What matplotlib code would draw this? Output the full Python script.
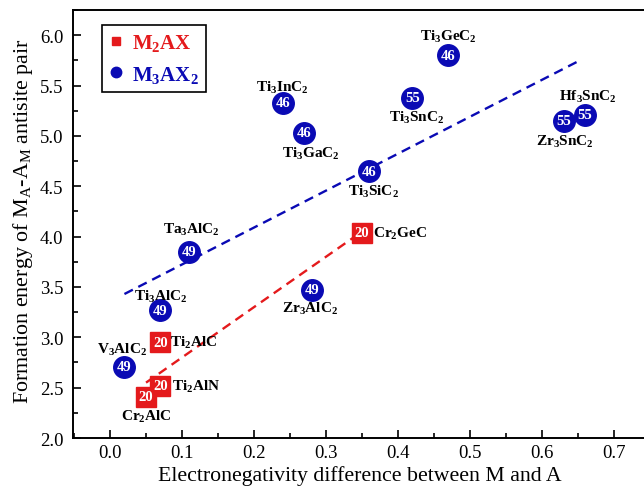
import numpy as np
import matplotlib
matplotlib.use("Agg")
import matplotlib.pyplot as plt
from matplotlib.lines import Line2D
from matplotlib.ticker import MultipleLocator

plt.rcParams['font.family'] = ['Liberation Serif', 'DejaVu Serif']
plt.rcParams['mathtext.fontset'] = 'custom'
plt.rcParams['mathtext.rm'] = 'Liberation Serif'
plt.rcParams['mathtext.bf'] = 'Liberation Serif:bold'
plt.rcParams['mathtext.it'] = 'Liberation Serif:italic'

RED = '#e41a1c'
BLUE = '#0a0ab4'

# M3AX2 phases (blue circles)
m3_names = ['Ti3GeC2', 'Ti3InC2', 'Ti3GaC2', 'Ti3SnC2', 'Hf3SnC2', 'Zr3SnC2',
            'Ti3SiC2', 'Ta3AlC2', 'Ti3AlC2', 'Zr3AlC2', 'V3AlC2']
m3_x = [0.47, 0.24, 0.27, 0.42, 0.66, 0.63, 0.36, 0.11, 0.07, 0.28, 0.02]
m3_y = [5.80, 5.33, 5.03, 5.38, 5.21, 5.15, 4.65, 3.85, 3.27, 3.47, 2.71]
m3_num = ['46', '46', '46', '55', '55', '55', '46', '49', '49', '49', '49']

# M2AX phases (red squares)
m2_names = ['Cr2GeC', 'Ti2AlC', 'Ti2AlN', 'Cr2AlC']
m2_x = [0.35, 0.07, 0.07, 0.05]
m2_y = [4.04, 2.95, 2.52, 2.41]
m2_num = ['20', '20', '20', '20']

# linear fit lines (end points)
m3_fit_x = [0.02, 0.65]
m3_fit_y = [3.43, 5.74]
m2_fit_x = [0.05, 0.35]
m2_fit_y = [2.55, 4.05]

# label offsets in points (dx, dy, ha)
m3_off = [(0, 14, 'center'), (0, 11.5, 'center'), (5, -14.5, 'center'),
          (3, -14, 'center'), (2, 13.5, 'center'), (1, -14.5, 'center'),
          (3, -14, 'center'), (1.5, 16.5, 'center'), (0, 10, 'center'),
          (-1.5, -13, 'center'), (-1.5, 13, 'center')]
m2_off = [(8, 0, 'left'), (7, 0, 'left'), (8, 0, 'left'), (0, -14, 'center')]


def fmt(name):
    out = ''
    for c in name:
        if c.isdigit():
            out += r'$_\mathbf{' + c + '}$'
        else:
            out += c
    return out


fig = plt.figure(figsize=(6.44, 4.89), dpi=100)
ax = fig.add_axes([0.1134, 0.1022, 0.8866, 0.8753])

ax.plot(m3_fit_x, m3_fit_y, color=BLUE, lw=1.7, linestyle=(0, (4, 2.6)))
ax.plot(m2_fit_x, m2_fit_y, color=RED, lw=1.7, linestyle=(0, (4, 2.6)))

ax.plot(m3_x, m3_y, 'o', color=BLUE, ms=15.5, mec=BLUE, zorder=3)
ax.plot(m2_x, m2_y, 's', color=RED, ms=14, mec=RED, zorder=3)

for x, y, n in zip(m3_x + m2_x, m3_y + m2_y, m3_num + m2_num):
    ax.text(x, y, n, color='white', fontsize=10.5, fontweight='bold',
            ha='center', va='center', zorder=4)

for x, y, name, (dx, dy, ha) in zip(m3_x + m2_x, m3_y + m2_y, m3_names + m2_names,
                                    m3_off + m2_off):
    ax.annotate(fmt(name), (x, y), xytext=(dx, dy), textcoords='offset points',
                ha=ha, va='center', fontsize=11, fontweight='bold', zorder=5)

ax.set_xlim(-0.0514, 0.7417)
ax.set_ylim(2.0, 6.25)
ax.xaxis.set_major_locator(MultipleLocator(0.1))
ax.xaxis.set_minor_locator(MultipleLocator(0.05))
ax.yaxis.set_major_locator(MultipleLocator(0.5))
ax.yaxis.set_minor_locator(MultipleLocator(0.25))
ax.set_xticks(np.arange(0.0, 0.71, 0.1))
ax.set_xticklabels(['0.0', '0.1', '0.2', '0.3', '0.4', '0.5', '0.6', '0.7'])
ax.tick_params(which='major', direction='in', length=6, width=1.2, labelsize=13.5,
               top=False, right=False, pad=7)
ax.tick_params(axis='x', which='major', pad=4)
ax.tick_params(which='minor', direction='in', length=3.5, width=1.2,
               top=False, right=False)
for s in ['left', 'bottom', 'top']:
    ax.spines[s].set_linewidth(1.4)
ax.spines['right'].set_visible(False)

ax.set_xlabel('Electronegativity difference between M and A', fontsize=15.7)
ax.set_ylabel(r'Formation energy of M$_\mathrm{A}$-A$_\mathrm{M}$ antisite pair',
              fontsize=15.8)
ax.xaxis.set_label_coords(0.503, -0.064)
ax.yaxis.set_label_coords(-0.066, 0.51)

handles = [Line2D([], [], marker='s', color=RED, ls='none', ms=6),
           Line2D([], [], marker='o', color=BLUE, ls='none', ms=7.5)]
leg = ax.legend(handles, [r'M$_\mathbf{2}$AX', r'M$_\mathbf{3}$AX$_\mathbf{2}$'],
                loc='upper left', bbox_to_anchor=(0.051, 0.965), borderaxespad=0,
                fancybox=False, edgecolor='black', framealpha=1,
                handlelength=0.65, handletextpad=0.45, labelspacing=0.5,
                borderpad=0.35,
                prop={'size': 15, 'weight': 'bold'}, labelcolor=[RED, BLUE])
leg.get_frame().set_linewidth(1.2)

fig.savefig('out.png', dpi=100)
